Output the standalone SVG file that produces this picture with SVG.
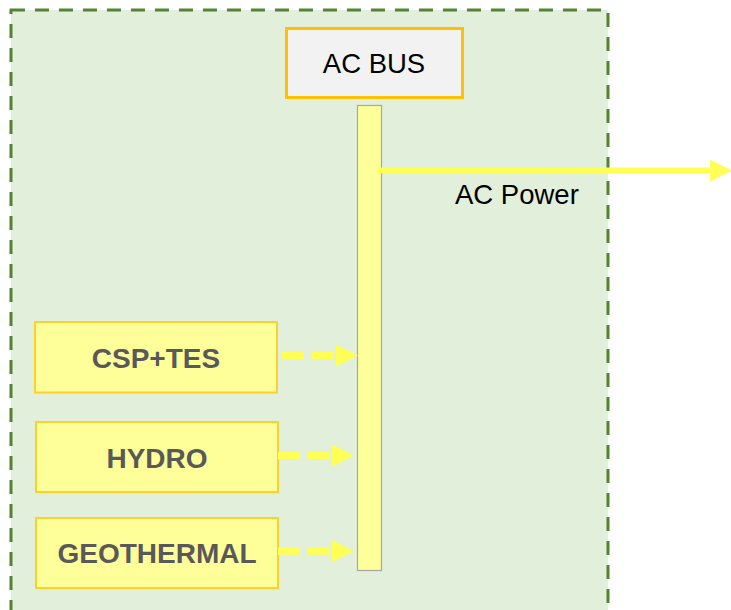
<svg xmlns="http://www.w3.org/2000/svg" width="731" height="610" viewBox="0 0 731 610">
<style>
.src rect{fill:#ffff99;stroke:#ffd02b;stroke-width:2}
.src text{font-family:"Liberation Sans",Arial,sans-serif;font-weight:bold;font-size:28px;fill:#595959;text-anchor:middle}
.lbl{font-family:"Liberation Sans",Arial,sans-serif;font-size:27.5px;fill:#000}
.dash{stroke:#ffff55;stroke-width:7.5;stroke-dasharray:22 8;fill:none}
</style>
<defs>
<marker id="ah" markerWidth="22" markerHeight="22" refX="0" refY="11" orient="auto" markerUnits="userSpaceOnUse">
<path d="M0,0 L22,11 L0,22 Z" fill="#ffff55"/>
</marker>
</defs>
<g id="container">
<rect x="11" y="10" width="597" height="605" fill="#e2efda" stroke="#548235" stroke-width="3" stroke-dasharray="14 10"/>
</g>
<g id="acbus">
<rect x="286.5" y="28.5" width="176" height="69" fill="#f2f2f2" stroke="#ffc000" stroke-width="3"/>
<text class="lbl" x="374" y="73" text-anchor="middle">AC BUS</text>
</g>
<g id="busbar">
<rect x="357.5" y="105.5" width="24" height="465" fill="#ffff99" stroke="#a6a6a6" stroke-width="1.2"/>
</g>
<g id="csp" class="src">
<rect x="35" y="322" width="242" height="70.5"/>
<text x="156" y="367.5">CSP+TES</text>
</g>
<g id="hydro" class="src">
<rect x="36" y="422" width="242" height="70"/>
<text x="157" y="467.5">HYDRO</text>
</g>
<g id="geo" class="src">
<rect x="36" y="518" width="242" height="70"/>
<text x="157" y="563">GEOTHERMAL</text>
</g>
<g id="connectors">
<line x1="282" y1="355.5" x2="336" y2="355.5" class="dash" marker-end="url(#ah)"/>
<line x1="278" y1="455.5" x2="332" y2="455.5" class="dash" marker-end="url(#ah)"/>
<line x1="278" y1="551" x2="332" y2="551" class="dash" marker-end="url(#ah)"/>
<line x1="378" y1="170.5" x2="710" y2="170.5" stroke="#ffff55" stroke-width="6" marker-end="url(#ah)"/>
<text class="lbl" x="455" y="204">AC Power</text>
</g>
</svg>
